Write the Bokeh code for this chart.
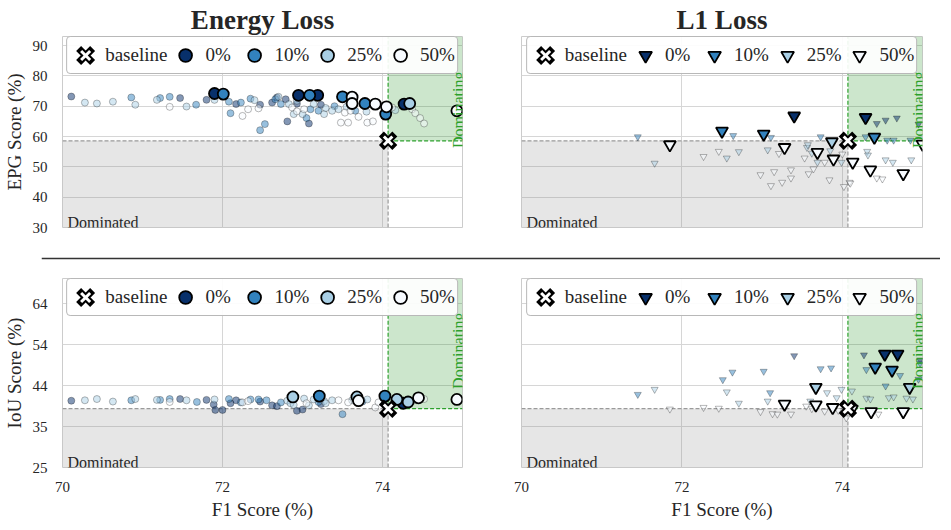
import numpy as np
from bokeh.plotting import figure
from bokeh.models import Range1d, FixedTicker, Label, Span, Legend, LegendItem
from bokeh.layouts import column, row
from bokeh.embed import file_html
from bokeh.resources import INLINE

FONT = "Liberation Serif"
TXT = "#262626"

GROUPS = ["0%", "10%", "25%", "50%"]
COLORS = ["#08306b", "#3282be", "#a9cfe5", "#f7fbff"]

X_TICKS = [70, 72, 74]
EPG_TICKS = [30, 40, 50, 60, 70, 80, 90]
IOU_TICKS = [25, 34.75, 44.5, 54.25, 64]
IOU_LABELS = ["25", "35", "44", "54", "64"]

BASE_F1 = 74.07
BASE_EPG = 58.6
BASE_IOU = 39.0

# ---------------- Energy Loss / EPG ----------------
en_epg_bg = {
    "0%": ([70.11, 71.47, 71.80, 72.17, 72.47, 72.62, 72.68, 72.79, 72.81, 73.08, 73.23, 72.93],
           [73.2, 72.7, 72.1, 70.7, 70.5, 71.2, 72.9, 72.3, 65.0, 64.3, 70.5, 70.8]),
    "10%": ([70.86, 71.22, 71.34, 71.67, 72.08, 72.10, 72.23, 72.35, 72.47, 72.53, 72.66, 72.73,
             73.05, 73.10, 73.20, 73.66, 73.40],
            [72.9, 72.7, 73.1, 70.5, 71.5, 67.7, 71.2, 72.5, 62.1, 64.1, 72.3, 70.7,
             66.1, 69.0, 68.5, 68.5, 70.0]),
    "25%": ([70.28, 70.43, 70.63, 70.91, 71.18, 71.55, 71.90, 72.40, 72.70, 72.83, 72.89, 72.93,
             73.00, 73.14, 73.27, 73.29, 73.37, 73.45, 73.55, 73.80, 74.16],
            [71.2, 70.9, 71.5, 70.5, 72.1, 69.9, 72.1, 72.0, 73.1, 70.7, 67.4, 71.8,
             67.4, 70.7, 67.4, 69.4, 68.5, 69.0, 69.8, 68.2, 68.7]),
    "50%": ([71.34, 72.25, 72.32, 72.45, 72.87, 72.93, 73.02, 73.48, 73.53, 73.57, 73.60, 73.70,
             73.81, 73.88, 74.12, 74.37, 74.41, 74.47, 74.52],
            [69.8, 66.8, 69.0, 69.3, 69.6, 68.3, 69.0, 64.6, 67.9, 64.6, 68.5, 66.5,
             64.6, 65.0, 69.6, 69.0, 67.7, 66.1, 64.3]),
}
en_epg_hi = {
    "0%": ([71.90, 72.95, 73.19, 74.27], [74.2, 73.6, 73.6, 70.7]),
    "10%": ([72.01, 73.09, 73.50, 73.78, 74.04], [74.0, 73.6, 73.1, 70.9, 67.4]),
    "25%": ([74.34], [70.9]),
    "50%": ([73.62, 73.62, 73.91, 74.05, 74.93], [73.0, 70.9, 70.7, 69.8, 68.5]),
}

# ---------------- Energy Loss / IoU ----------------
en_iou_bg = {
    "0%": ([70.11, 71.47, 71.80, 71.89, 71.91, 72.00, 72.10, 72.17, 72.47, 72.62, 72.68, 72.93,
            73.00, 73.23],
           [40.9, 41.3, 41.1, 40.0, 38.7, 38.7, 40.3, 41.0, 40.7, 39.8, 39.6, 38.5,
            38.8, 40.1]),
    "10%": ([70.86, 71.22, 71.34, 71.68, 72.08, 72.23, 72.35, 72.45, 72.55, 72.73, 73.20, 73.50,
             73.75],
            [41.0, 41.1, 41.3, 40.6, 41.3, 40.5, 41.2, 41.2, 41.0, 40.5, 40.6, 37.7,
             40.7]),
    "25%": ([70.28, 70.43, 70.63, 70.91, 71.18, 71.55, 71.90, 72.81, 72.85, 72.89, 73.02, 73.08,
             73.14, 73.27, 73.29, 73.37, 73.62, 73.81],
            [41.0, 41.3, 40.7, 41.3, 41.1, 41.0, 41.2, 40.9, 40.3, 39.9, 41.4, 39.8,
             41.2, 40.8, 40.3, 41.0, 41.0, 41.2]),
    "50%": ([71.34, 72.25, 72.32, 73.05, 73.45, 73.57, 73.91, 73.95, 74.20, 74.37, 74.43, 74.52],
            [40.6, 40.5, 40.8, 40.3, 41.0, 40.5, 39.3, 40.5, 40.8, 40.8, 41.0, 41.3]),
}
en_iou_hi = {
    "0%": ([74.26], [40.3]),
    "10%": ([73.21, 74.03], [42.0, 42.0]),
    "25%": ([72.88, 73.68, 74.18, 74.32], [41.8, 41.8, 41.2, 40.6]),
    "50%": ([73.70, 74.45, 74.93], [40.9, 41.6, 41.2]),
}

# ---------------- L1 Loss / EPG ----------------
l1_epg_bg = {
    "0%": ([74.30, 74.43, 74.54, 74.68, 74.95],
           [65.5, 64.3, 65.4, 66.1, 64.1]),
    "10%": ([71.45, 72.64, 73.11, 73.73, 74.29, 74.56, 74.64, 74.85],
            [59.9, 60.3, 59.7, 59.9, 59.9, 58.8, 58.8, 58.8]),
    "25%": ([71.66, 72.56, 72.71, 73.07, 73.56, 73.57, 73.62, 73.69, 73.85, 73.99, 74.31, 74.32,
             74.54, 74.63, 74.86],
            [51.2, 52.9, 55.0, 55.6, 56.4, 57.3, 54.5, 51.5, 55.3, 51.5, 55.1, 53.9,
             52.3, 51.5, 52.3]),
    "50%": ([72.27, 72.46, 72.98, 73.11, 73.15, 73.21, 73.25, 73.36, 73.36, 73.53, 73.58, 73.64,
             73.78, 73.84, 74.00, 74.02, 74.09, 74.10, 74.43, 74.50],
            [53.4, 55.1, 47.4, 43.8, 48.4, 54.4, 44.9, 49.0, 46.3, 52.9, 47.7, 49.3,
             51.5, 45.7, 54.2, 43.5, 44.9, 44.6, 46.3, 46.0]),
}
l1_epg_hi = {
    "0%": ([73.40, 74.29], [66.8, 66.3]),
    "10%": ([72.50, 73.02, 74.40], [61.8, 60.8, 59.8]),
    "25%": ([73.87], [58.3]),
    "50%": ([71.85, 73.28, 73.69, 73.89, 74.13, 74.35, 74.76, 75.00],
            [57.3, 56.4, 54.8, 52.6, 51.6, 49.0, 47.8, 57.5]),
}

# ---------------- L1 Loss / IoU ----------------
l1_iou_bg = {
    "0%": ([73.40, 74.27, 74.97], [51.6, 51.8, 50.6]),
    "10%": ([71.45, 72.51, 72.63, 73.02, 73.10, 73.73, 73.86, 74.30, 74.54, 74.72, 74.97, 74.95],
            [42.4, 45.9, 47.7, 47.9, 42.8, 48.5, 48.7, 48.3, 44.4, 46.9, 49.8, 46.0]),
    "25%": ([71.66, 72.56, 72.71, 73.07, 73.60, 73.81, 73.93, 73.99, 74.12, 74.30, 74.35, 74.58,
             74.64, 74.80, 74.88],
            [43.6, 43.0, 40.3, 40.8, 40.8, 42.8, 41.6, 43.6, 43.2, 41.5, 41.3, 41.6,
             41.8, 41.5, 41.3]),
    "50%": ([71.85, 72.27, 72.46, 72.98, 73.13, 73.19, 73.36, 73.55, 73.62, 73.78, 73.95, 74.05,
             74.45],
            [38.9, 39.3, 39.1, 38.3, 37.8, 37.7, 37.7, 39.6, 39.0, 38.4, 38.6, 36.8,
             37.7]),
}
l1_iou_hi = {
    "0%": ([74.53, 74.69], [52.0, 52.0]),
    "10%": ([74.41, 74.62], [48.9, 48.2]),
    "25%": ([73.67, 74.84], [44.1, 44.1]),
    "50%": ([73.28, 73.67, 73.88, 74.12, 74.36, 74.76],
            [40.1, 39.9, 39.3, 38.9, 38.3, 38.3]),
}


def make_panel(title, yr, yticks, ylabels, ylab, show_x, show_y, bg, hi, base_y,
               marker, bsize, hsize, width, height, bl, br, bt, bb):
    xr = Range1d(70, 75)
    yrange = Range1d(*yr)
    p = figure(width=width, height=height, x_range=xr, y_range=yrange,
               toolbar_location=None, output_backend="svg",
               min_border_left=bl, min_border_right=br, min_border_top=bt, min_border_bottom=bb)
    p.background_fill_color = "white"
    p.border_fill_color = "white"
    p.outline_line_color = "#cccccc"
    p.outline_line_width = 1

    if title:
        p.title.text = title
        p.title.align = "center"
        p.title.text_font = FONT
        p.title.text_font_size = "27px"
        p.title.text_font_style = "bold"
        p.title.text_color = TXT
        p.title.standoff = 4

    p.xgrid.ticker = FixedTicker(ticks=X_TICKS)
    p.ygrid.ticker = FixedTicker(ticks=yticks)
    p.grid.grid_line_color = "#d6d6d6"
    p.grid.grid_line_width = 1

    for ax in (p.xaxis, p.yaxis):
        ax.axis_line_color = None
        ax.major_tick_line_color = None
        ax.minor_tick_line_color = None
        ax.major_label_text_font = FONT
        ax.major_label_text_font_size = "15px"
        ax.major_label_text_color = TXT
        ax.axis_label_text_font = FONT
        ax.axis_label_text_font_size = "19px"
        ax.axis_label_text_font_style = "normal"
        ax.axis_label_text_color = TXT

    if show_x:
        p.xaxis.ticker = FixedTicker(ticks=X_TICKS)
        p.xaxis.axis_label = "F1 Score (%)"
        p.xaxis.major_label_standoff = 8
        p.xaxis.axis_label_standoff = 4
    else:
        p.xaxis.visible = False
    if show_y:
        p.yaxis.ticker = FixedTicker(ticks=yticks)
        p.yaxis.major_label_overrides = {t: l for t, l in zip(yticks, ylabels)}
        p.yaxis.axis_label = ylab
        p.yaxis.major_label_standoff = 9
        p.yaxis.axis_label_standoff = 5
    else:
        p.yaxis.visible = False

    x0, x1 = 70, 75
    y0, y1 = yr
    # regions
    p.quad(left=[x0], right=[BASE_F1], bottom=[y0], top=[base_y],
           fill_color="gray", fill_alpha=0.2, line_color=None)
    p.quad(left=[BASE_F1], right=[x1], bottom=[base_y], top=[y1],
           fill_color="green", fill_alpha=0.2, line_color=None)
    p.segment(x0=[x0, BASE_F1], y0=[base_y, y0], x1=[BASE_F1, BASE_F1], y1=[base_y, base_y],
              line_color="#9a9a9a", line_width=1.2, line_dash="4 2")
    p.segment(x0=[BASE_F1, BASE_F1], y0=[base_y, base_y], x1=[BASE_F1, x1], y1=[y1, base_y],
              line_color="#2ca02c", line_width=1.2, line_dash="4 2")

    p.add_layout(Label(x=x0, y=y0, x_offset=5, y_offset=5, text="Dominated",
                       text_font=FONT, text_font_size="16px", text_color=TXT,
                       text_baseline="alphabetic", text_align="left"))
    p.add_layout(Label(x=74.95, y=y0 + 0.416 * (y1 - y0), text="Dominating", angle=np.pi / 2,
                       text_font=FONT, text_font_size="16px", text_color="#2ca02c",
                       text_baseline="alphabetic", text_align="left"))

    for g, c in zip(GROUPS, COLORS):
        xs, ys = bg[g]
        p.scatter(xs, ys, marker=marker, size=bsize, fill_color=c, fill_alpha=0.5,
                  line_color="black", line_alpha=0.35, line_width=0.8)
    hrs = []
    for g, c in zip(GROUPS, COLORS):
        xs, ys = hi[g]
        r = p.scatter(xs, ys, marker=marker, size=hsize, fill_color=c,
                      line_color="black", line_width=1.8)
        hrs.append(r)
    rb1 = p.scatter([BASE_F1], [base_y], marker="x", size=12, line_color="black",
                    line_width=7, line_cap="square")
    rb2 = p.scatter([BASE_F1], [base_y], marker="x", size=12, line_color="white",
                    line_width=3)

    items = [LegendItem(label="baseline", renderers=[rb1, rb2])]
    items += [LegendItem(label=g, renderers=[r]) for g, r in zip(GROUPS, hrs)]
    leg = Legend(items=items, orientation="horizontal", location="top_center",
                 margin=0, padding=2, spacing=2, glyph_width=32, glyph_height=32,
                 label_standoff=4, label_width=31, label_text_font=FONT,
                 label_text_font_size="19px", label_text_color=TXT,
                 border_line_color="#b8b8b8", border_line_width=1.2, border_line_alpha=1.0,
                 background_fill_color="white", background_fill_alpha=0.92)
    try:
        leg.border_radius = 4
    except Exception:
        pass
    p.add_layout(leg)
    return p


p1 = make_panel("Energy Loss", (30, 93), EPG_TICKS, [str(t) for t in EPG_TICKS], "EPG Score (%)",
                False, True, en_epg_bg, en_epg_hi, BASE_EPG, "circle", 7, 11,
                491, 245, 62, 29, 36, 18)
p2 = make_panel("L1 Loss", (30, 93), EPG_TICKS, [str(t) for t in EPG_TICKS], "",
                False, False, l1_epg_bg, l1_epg_hi, BASE_EPG, "inverted_triangle", 7, 12,
                445, 245, 30, 14, 36, 18)
p3 = make_panel(None, (25, 70), IOU_TICKS, IOU_LABELS, "IoU Score (%)",
                True, True, en_iou_bg, en_iou_hi, BASE_IOU, "circle", 7, 11,
                491, 251, 62, 29, 7, 53)
p4 = make_panel(None, (25, 70), IOU_TICKS, IOU_LABELS, "",
                True, False, l1_iou_bg, l1_iou_hi, BASE_IOU, "inverted_triangle", 7, 12,
                445, 251, 30, 14, 7, 53)

sep = figure(width=940, height=26, x_range=Range1d(0, 1), y_range=Range1d(0, 1),
             toolbar_location=None, output_backend="svg", x_axis_type=None, y_axis_type=None,
             min_border_left=41, min_border_right=0, min_border_top=0, min_border_bottom=0)
sep.outline_line_color = None
sep.add_layout(Span(location=0.5, dimension="width", line_color="#333333", line_width=1.6))

layout = column(row(p1, p2), sep, row(p3, p4))
open("out.html", "w").write(file_html(layout, INLINE))
